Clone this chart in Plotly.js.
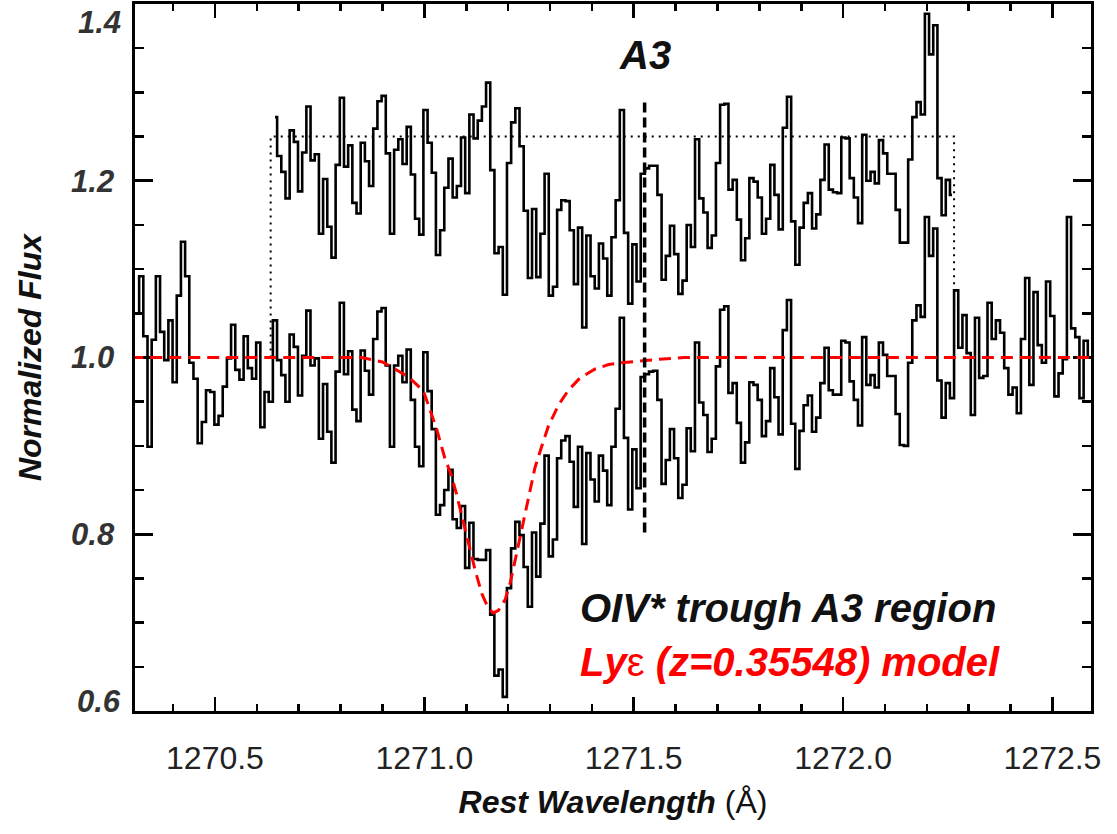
<!DOCTYPE html>
<html>
<head>
<meta charset="utf-8">
<script src="https://cdn.plot.ly/plotly-3.0.1.min.js"></script>
<style>html,body{margin:0;padding:0;background:#fff;}#chart{width:1117px;height:834px;}</style>
</head>
<body>
<div id="chart"></div>
<script>
// ---- Data ----
// Lower spectrum (normalized flux), one value per detector bin
const lowerFlux = [
1.050,1.092,1.024,0.899,1.020,1.092,1.029,0.997,1.042,0.972,
1.070,1.131,1.092,0.994,0.976,0.903,0.927,0.963,0.961,0.924,
0.934,0.967,0.999,1.037,0.986,0.975,1.024,0.988,0.976,1.017,
0.921,0.961,0.950,1.042,0.997,0.980,0.950,1.026,1.012,0.957,
1.002,1.053,0.991,0.999,0.908,0.970,0.916,0.881,0.984,1.062,
0.981,1.007,0.941,0.928,1.008,0.985,0.958,1.021,1.052,1.056,
0.991,0.899,0.991,1.002,0.972,1.009,0.952,0.899,0.877,1.006,
0.962,0.919,0.822,0.833,0.850,0.873,0.817,0.807,0.832,0.762,
0.813,0.772,0.771,0.771,0.782,0.709,0.640,0.647,0.616,0.739,
0.784,0.814,0.799,0.763,0.718,0.802,0.752,0.812,0.889,0.775,
0.794,0.886,0.906,0.911,0.882,0.831,0.899,0.789,0.892,0.862,
0.837,0.889,0.872,0.833,0.899,0.942,1.045,0.909,0.828,0.896,
0.852,0.978,0.981,0.984,0.985,0.952,0.857,0.884,0.919,0.886,
0.841,0.856,0.920,0.894,1.017,0.949,0.935,0.893,0.908,0.990,
1.054,1.058,0.960,0.971,0.926,0.881,0.904,0.972,0.969,0.952,
0.911,0.928,0.988,0.955,0.913,1.031,1.065,0.925,0.874,0.917,
0.946,0.957,0.916,0.932,0.971,1.011,0.963,0.958,0.958,1.019,
1.017,0.973,0.952,0.923,1.023,0.969,0.980,0.966,1.017,1.003,
0.979,0.979,0.936,0.901,0.900,0.994,1.042,1.059,1.046,1.159,
1.115,1.146,0.974,0.932,0.971,0.954,1.076,1.011,1.048,1.005,
0.935,1.045,0.977,0.979,1.062,1.021,1.042,1.028,0.988,0.958,
0.966,0.937,1.021,1.090,0.969,1.074,1.014,0.994,1.086,1.047,
0.956,0.982,0.998,1.159,1.033,1.023,0.954,1.019,1.000
];
// Upper (offset) spectrum inside the dotted box
const upperFlux = [
1.272,1.228,1.210,1.180,1.257,1.244,1.188,1.232,1.284,1.223,
1.230,1.140,1.202,1.148,1.113,1.218,1.294,1.216,1.240,1.175,
1.163,1.243,1.222,1.194,1.259,1.290,1.296,1.231,1.140,1.235,
1.247,1.219,1.261,1.207,1.157,1.139,1.280,1.243,1.209,1.116,
1.144,1.192,1.225,1.181,1.194,1.249,1.186,1.275,1.248,1.268,
1.284,1.311,1.212,1.118,1.125,1.071,1.220,1.266,1.282,1.239,
1.166,1.090,1.168,1.091,1.140,1.208,1.070,1.080,1.167,1.178,
1.177,1.144,1.083,1.147,1.034,1.138,1.092,1.078,1.129,1.112,
1.070,1.136,1.178,1.280,1.141,1.061,1.128,1.086,1.208,1.214,
1.217,1.217,1.184,1.088,1.115,1.149,1.117,1.072,1.087,1.150,
1.125,1.247,1.180,1.164,1.124,1.138,1.220,1.286,1.287,1.190,
1.201,1.156,1.110,1.135,1.203,1.199,1.181,1.140,1.157,1.218,
1.184,1.145,1.260,1.295,1.154,1.105,1.147,1.175,1.186,1.146,
1.162,1.201,1.241,1.190,1.187,1.186,1.249,1.248,1.203,1.181,
1.152,1.252,1.200,1.210,1.197,1.246,1.231,1.208,1.208,1.167,
1.130,1.130,1.224,1.272,1.289,1.275,1.389,1.343,1.376,1.203,
1.161,1.201,1.184
];
const lowerStart = 1270.3139;   // wavelength of first lower bin (Å)
const upperStart = 1270.6434;   // wavelength of first upper bin (Å)
const binWidth = 0.00998;       // Å per bin

// Ly-epsilon model (red dashed)
const modelWave = [1270.300,1270.850,1270.900,1270.930,1270.962,1270.998,1271.014,1271.030,1271.049,1271.065,
1271.077,1271.093,1271.105,1271.121,1271.137,1271.153,1271.165,1271.177,1271.193,1271.205,
1271.217,1271.229,1271.240,1271.252,1271.264,1271.280,1271.296,1271.320,1271.344,1271.372,
1271.408,1271.440,1271.471,1271.535,1271.620,1272.600];
const modelFlux = [1.000,1.000,0.995,0.987,0.978,0.962,0.939,0.918,0.886,0.866,
0.845,0.813,0.790,0.760,0.733,0.716,0.711,0.714,0.726,0.745,
0.771,0.797,0.820,0.846,0.875,0.899,0.922,0.946,0.963,0.977,
0.987,0.992,0.994,0.997,1.000,1.000];

// Dotted box around the upper spectrum
const boxWave = [1270.633,1270.633,1272.265,1272.265];
const boxFlux = [1.00,1.25,1.25,1.00];
// A3 marker
const a3Wave = [1271.526,1271.526];
const a3Flux = [0.802,1.292];

const xTickVals = [1270.5,1271.0,1271.5,1272.0,1272.5];
const xTickText = ['1270.5','1271.0','1271.5','1272.0','1272.5'];
const yTickVals = [0.6,0.8,1.0,1.2,1.4];
const yTickText = ['','0.8','1.0','1.2',''];

const FONT = 'Liberation Sans, Arial, Helvetica, sans-serif';

const traces = [
  {x0: lowerStart, dx: binWidth, y: lowerFlux, type:'scatter', mode:'lines',
   line:{shape:'hvh', color:'#000', width:2.6}, hoverinfo:'skip'},
  {x0: upperStart, dx: binWidth, y: upperFlux, type:'scatter', mode:'lines',
   line:{shape:'hvh', color:'#000', width:2.6}, hoverinfo:'skip'},
  {x: boxWave, y: boxFlux, type:'scatter', mode:'lines',
   line:{color:'#000', width:2, dash:'2px,5px'}, hoverinfo:'skip'},
  {x: modelWave, y: modelFlux, type:'scatter', mode:'lines',
   line:{color:'#ff0000', width:3, dash:'12px,7px'}, hoverinfo:'skip'},
  {x: a3Wave, y: a3Flux, type:'scatter', mode:'lines',
   line:{color:'#000', width:3.5, dash:'10px,5px'}, hoverinfo:'skip'}
];

const layout = {
  width:1117, height:834,
  margin:{l:135, r:26, t:4, b:123},
  paper_bgcolor:'#fff', plot_bgcolor:'#fff',
  showlegend:false,
  font:{family:FONT, color:'#000'},
  xaxis:{
    range:[1270.309,1272.592], showgrid:false, zeroline:false, layer:'below traces',
    showline:true, linecolor:'#000', linewidth:2.6, mirror:'ticks',
    ticks:'inside', ticklen:14, tickwidth:2.6, tickcolor:'#000',
    tickvals:xTickVals, ticktext:xTickText, ticklabelstandoff:17,
    tickfont:{family:FONT, size:32, color:'#222'},
    minor:{dtick:0.1, tick0:1270.5, ticks:'inside', ticklen:7, tickwidth:2.6, tickcolor:'#000'},
    title:{text:'<b><i>Rest Wavelength</i></b> (Å)', font:{family:FONT, size:32, color:'#111'}, standoff:16}
  },
  yaxis:{
    range:[0.6,1.4], showgrid:false, zeroline:false, layer:'below traces',
    showline:true, linecolor:'#000', linewidth:2.6, mirror:'ticks',
    ticks:'inside', ticklen:18, tickwidth:2.6, tickcolor:'#000',
    tickvals:yTickVals, ticktext:yTickText, ticklabelstandoff:12,
    tickfont:{family:FONT, size:31, color:'#333', weight:'bold', style:'italic'},
    minor:{dtick:0.05, tick0:0.6, ticks:'inside', ticklen:9, tickwidth:2.6, tickcolor:'#000'},
    title:{text:'<b><i>Normalized Flux</i></b>', font:{family:FONT, size:32, color:'#111'}, standoff:20}
  },
  annotations:[
    {xref:'paper', x:0, xanchor:'right', xshift:-12, yref:'y', y:1.4, yshift:-18, yanchor:'middle',
     text:'1.4', showarrow:false, font:{family:FONT, size:31, color:'#333', weight:'bold', style:'italic'}},
    {xref:'paper', x:0, xanchor:'right', xshift:-12, yref:'y', y:0.6, yshift:10, yanchor:'middle',
     text:'0.6', showarrow:false, font:{family:FONT, size:31, color:'#333', weight:'bold', style:'italic'}},
    {x:1271.526, y:1.3425, xref:'x', yref:'y', text:'<b><i>A3</i></b>', showarrow:false,
     xanchor:'center', yanchor:'middle', font:{family:FONT, size:40, color:'#111'}},
    {x:1271.366, y:0.7168, xref:'x', yref:'y', text:'<b><i>OIV* trough A3 region</i></b>', showarrow:false,
     xanchor:'left', yanchor:'middle', font:{family:FONT, size:40, color:'#111'}},
    {x:1271.366, y:0.6557, xref:'x', yref:'y',
     text:'<b><i>Ly</i></b>ε<b><i> (z=0.35548) model</i></b>', showarrow:false,
     xanchor:'left', yanchor:'middle', font:{family:FONT, size:40, color:'#ff0000'}}
  ]
};

Plotly.newPlot('chart', traces, layout, {staticPlot:true, displayModeBar:false});
</script>
</body>
</html>
